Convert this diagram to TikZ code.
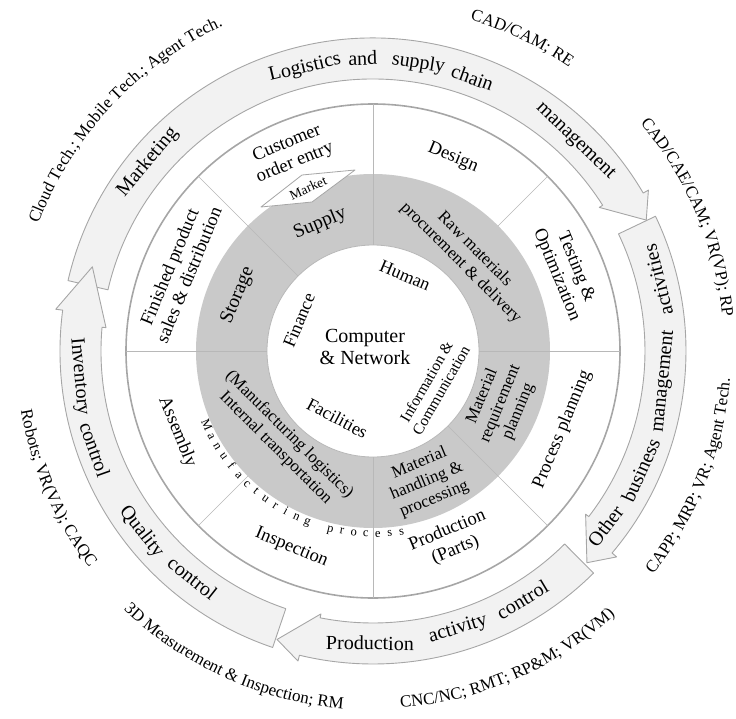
\documentclass[tikz,border=0pt]{standalone}
\usepackage{fontspec}
\setmainfont{Liberation Serif}
\usepackage{tikz}
\usetikzlibrary{calc}
\usetikzlibrary{decorations.text}
\definecolor{cacaca}{rgb}{0.79,0.79,0.79}
\definecolor{f2f2f2}{rgb}{0.95,0.95,0.95}
\definecolor{a6a6a6}{rgb}{0.65,0.65,0.65}
\definecolor{b8b8b8}{rgb}{0.72,0.72,0.72}
\newcommand{\px}[2]{\fontsize{#1}{#2}\selectfont}
\tikzstyle{every node}=[inner sep=0pt]

\begin{document}
\begin{tikzpicture}[line cap=round,line join=round,x=1.0pt,y=1.0pt,
    band/.style={line width=0.9pt,color=a6a6a6,fill=f2f2f2},
    spoke/.style={line width=0.6pt,color=b8b8b8},
    btext/.style={font=\px{20}{22}},
    wtext/.style={font=\px{18.5}{21},align=center},
    gtext/.style={font=\px{17}{19.5},align=center},
    itext/.style={font=\px{18}{20},align=center},
    mproc/.style={font=\px{12.5}{14},anchor=base},
    otext/.style={decorate,decoration={text along path,text align=center,text={|\px{17}{19}|#1}}}]
            \useasboundingbox (-373,-367) rectangle (363,351);
            % outer band of arrows
            \filldraw[band] (167:272) -- (167:313) arc (167:30.3:313) -- (30.3:319) -- (25.6:303) -- (32.4:268) -- (32.4:272) arc (32.4:167:272) -- cycle;
            \filldraw[band] (25.5:272) -- (25.5:313) arc (25.5:-40.2:313) -- (-40.2:319) -- (-44.7:301) -- (-37.5:268) -- (-37.5:272) arc (-37.5:25.5:272) -- cycle;
            \filldraw[band] (-45.2:272) -- (-45.2:313) arc (-45.2:-103.6:313) -- (-103.6:319) -- (-108.4:304) -- (-101.2:268) -- (-101.2:272) arc (-101.2:-45.2:272) -- cycle;
            \filldraw[band] (251.3:272) -- (251.3:313) arc (251.3:172.5:313) -- (172.5:320) -- (163.3:293) -- (175:268) -- (175:272) arc (175:251.3:272) -- cycle;
            % rings
            \filldraw[line width=1.6pt,color=a6a6a6,fill=white] (0,0) circle (247);
            \fill[cacaca] (0,0) circle (177);
            \foreach \a in {0,90,135,180,270,315}
                \draw[spoke] (\a:106) -- (\a:247);
            \foreach \a in {45,225}
                \draw[spoke] (\a:177) -- (\a:247);
            \filldraw[line width=0.8pt,color=b8b8b8,fill=white] (0,0) circle (106);
            \filldraw[line width=0.8pt,color=a6a6a6,fill=white] (-112,144) -- (-71,176) -- (-18,181) -- (-61,149) -- cycle;
            % centre
            \node[itext,font=\px{20}{22}] (cnet) at (-8,4) {Computer\\\& Network};
            \node[itext,rotate=-23] (human) at (67:82) {Human};
            \node[itext,rotate=67.5] (finance) at (157.5:80) {Finance};
            \node[itext,rotate=-28] (facil) at (242:76) {Facilities};
            \node[itext,font=\px{15.5}{17},rotate=60] (infocom) at (-30:70) {Information \&\\Communication};
            % grey ring
            \node[gtext,font=\px{19.5}{21},rotate=22.5] (supply) at (112.5:138) {Supply};
            \node[gtext,font=\px{19.5}{21},rotate=67.5] (storage) at (157.5:146) {Storage};
            \node[gtext,rotate=-45] (raw) at (45:134) {Raw materials\\procurement \& delivery};
            \node[gtext,rotate=67.5] (mrp) at (-22.5:138) {Material\\requirement\\planning};
            \node[gtext,rotate=22.5] (mhp) at (-67.5:141) {Material\\handling \&\\processing};
            \node[gtext,rotate=-45] (mlog) at (-135:128) {(Manufacturing logistics)\\Internal transportation};
            % white ring
            \node[wtext,rotate=22.5] (coe) at (112.5:214) {Customer\\order entry};
            \node[wtext,font=\px{13.5}{15},rotate=24] (market) at (-65,163) {Market};
            \node[wtext,rotate=-22.5] (design) at (67.5:209) {Design};
            \node[wtext,rotate=-67.5] (testopt) at (22.5:209) {Testing \&\\Optimization};
            \node[wtext,rotate=67.5] (procpl) at (-22.5:205) {Process planning};
            \node[wtext,rotate=22.5] (prodparts) at (-67.5:205) {Production\\(Parts)};
            \node[wtext,rotate=-22.5] (inspect) at (-112.5:213) {Inspection};
            \node[wtext,rotate=-67.5] (assembly) at (-157.5:212) {Assembly};
            \node[wtext,rotate=67.5] (finished) at (157.5:210) {Finished product\\sales \& distribution};
            \foreach \ch [count=\i from 0] in {M,a,n,u,f,a,c,t,u,r,i,n,g}
                \node[mproc,rotate={204+3.75*\i+90}] (mp\i) at ({204+3.75*\i}:186) {\ch};
            \foreach \ch [count=\i from 0] in {p,r,o,c,e,s,s}
                \node[mproc,rotate={256.5+3.75*\i+90}] (pp\i) at ({256.5+3.75*\i}:186) {\ch};
            % words in the band
            \node[btext,rotate=50] (wmark) at (140:294) {Marketing};
            \node[btext,rotate=13.5] (wlog) at (103.5:291) {Logistics};
            \node[btext,rotate=2] (wand) at (92:293) {and};
            \node[btext,rotate=-9] (wsup) at (81:291) {supply};
            \node[btext,rotate=-20] (wchain) at (70:291) {chain};
            \node[btext,rotate=-44] (wman) at (46:291) {management};
            \node[btext,rotate=104] (wact) at (14:294) {activities};
            \node[btext,rotate=84] (wman2) at (-6:293) {management};
            \node[btext,rotate=66] (wbus) at (-24:293) {business};
            \node[btext,rotate=53] (wother) at (-37:291) {Other};
            \node[btext,rotate=-0.6] (wprod) at (-90.6:292) {Production};
            \node[btext,rotate=17] (wactv) at (-73:291) {activity};
            \node[btext,rotate=31] (wcon) at (-59:290) {control};
            \node[btext,rotate=-52] (wqual) at (218:294) {Quality};
            \node[btext,rotate=-38.5] (wcon2) at (231.5:290) {control};
            \node[btext,rotate=-85] (winv) at (185:295) {Inventory};
            \node[btext,rotate=-70.5] (wcon3) at (199.5:295) {control};
            % technologies outside
            \path[otext={Cloud Tech.; Mobile Tech.; Agent Tech.}] (167:358) arc (167:107:358);
            \path[otext={CAD/CAM; RE}] (94:345) arc (94:35:345);
            \path[otext={CAD/CAE/CAM; VR(VP); RP}] (54:351) arc (54:-8:351);
            \path[otext={CAPP; MRP; VR; Agent Tech.}] (-52:358) arc (-52:9:358);
            \path[otext={CNC/NC; RMT; RP{\&}M; VR(VM)}] (-97:358) arc (-97:-36:358);
            \path[otext={3D Measurement {\&} Inspection; RM}] (215.6:359) arc (215.6:275.6:359);
            \path[otext={Robots; VR(VA); CAQC}] (178.5:357) arc (178.5:228.5:357);
\end{tikzpicture}
\end{document}
